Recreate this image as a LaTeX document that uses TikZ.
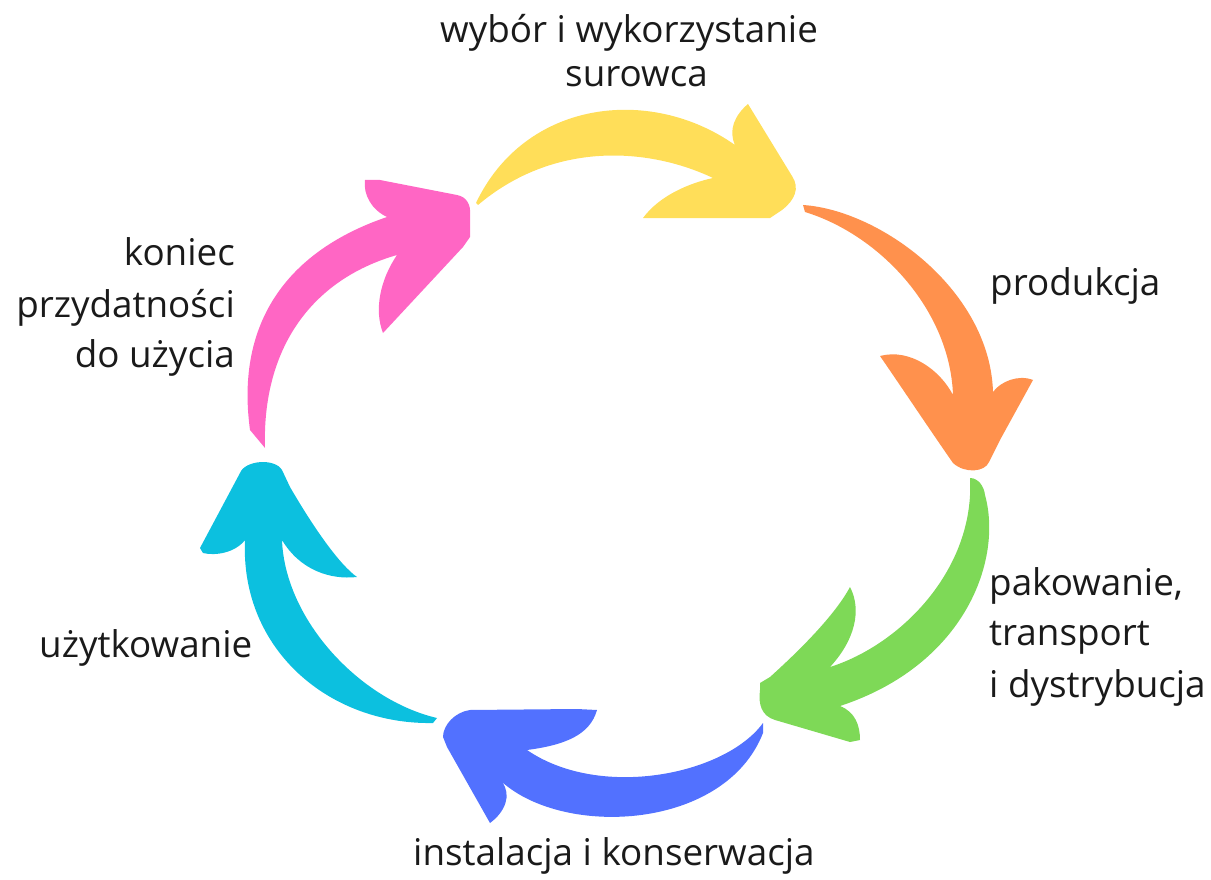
\documentclass[tikz,border=0pt]{standalone}
\usepackage{fontspec}
\setmainfont{Open Sans}
\definecolor{cyellow}{HTML}{FFDE59}
\definecolor{corange}{HTML}{FF914D}
\definecolor{cgreen}{HTML}{7ED957}
\definecolor{cblue}{HTML}{5271FF}
\definecolor{cteal}{HTML}{0CC0DF}
\definecolor{cpink}{HTML}{FF66C4}
\definecolor{ctext}{HTML}{1A1A1A}
\begin{document}
\begin{tikzpicture}[x=1pt,y=-1pt,
  lbl/.style={inner sep=0pt, font=\fontsize{36.8}{44}\selectfont, text=ctext}]
\useasboundingbox (0,0) rectangle (1211,880);

% yellow arrow
\fill[cyellow] (476,203) .. controls (525,100) and (650,85) .. (735,145)
  .. controls (728,130) and (735,115) .. (748,104)
  -- (792,176) .. controls (800,188) and (795,200) .. (782,210)
  -- (770,218) -- (643,218)
  .. controls (660,195) and (690,183) .. (713,178)
  .. controls (650,148) and (555,140) .. (478,205)
  -- cycle;

% orange arrow
\fill[corange] (803,205) .. controls (880,210) and (990,290) .. (993,392)
  .. controls (1000,382) and (1018,374) .. (1033,380)
  -- (1000,440) -- (989,462) .. controls (985,472) and (965,474) .. (953,463)
  .. controls (930,430) and (900,385) .. (880,356)
  .. controls (910,348) and (940,370) .. (953,395)
  .. controls (950,310) and (880,235) .. (805,212)
  -- cycle;

% green arrow
\fill[cgreen] (970,478) .. controls (978,478) and (984,486) .. (985,495)
  .. controls (1003,560) and (965,665) .. (840,706)
  .. controls (855,712) and (860,725) .. (860,740)
  -- (850,742) -- (775,720) .. controls (762,716) and (758,705) .. (760,690)
  -- (760,683) -- (770,677)
  .. controls (800,650) and (835,615) .. (850,587)
  .. controls (862,610) and (855,640) .. (830,667)
  .. controls (900,645) and (975,570) .. (970,478)
  -- cycle;

% blue arrow
\fill[cblue] (763,723) .. controls (725,775) and (600,800) .. (527,750)
  .. controls (565,745) and (590,735) .. (597,710)
  -- (577,709) -- (470,710) .. controls (455,712) and (443,725) .. (443,737)
  -- (447,747) -- (490,823)
  .. controls (505,812) and (512,795) .. (502,782)
  .. controls (565,838) and (725,830) .. (763,733)
  -- cycle;

% teal arrow
\fill[cteal] (240,473) .. controls (245,460) and (275,458) .. (282,470)
  -- (290,487) .. controls (315,530) and (340,565) .. (357,577)
  .. controls (330,580) and (300,570) .. (282,540)
  .. controls (285,620) and (360,700) .. (437,718)
  -- (433,723)
  .. controls (330,725) and (240,650) .. (245,540)
  .. controls (235,553) and (215,556) .. (203,553)
  -- (200,548) -- cycle;

% pink arrow
\fill[cpink] (265,448) -- (250,430) .. controls (235,320) and (290,250) .. (387,217)
  .. controls (372,210) and (363,195) .. (365,180)
  -- (380,180) -- (457,195) .. controls (467,197) and (471,205) .. (470,215)
  -- (470,237) -- (463,247) -- (383,333)
  .. controls (374,310) and (380,280) .. (397,255)
  .. controls (310,280) and (262,350) .. (265,448)
  -- cycle;

% labels
\node[lbl, anchor=base west] (t1a) at (440,43) {wybór i wykorzystanie};
\node[lbl, anchor=base west] (t1b) at (565,87) {surowca};
\node[lbl, anchor=base west] (t2) at (990,295) {produkcja};
\node[lbl, anchor=base west] (t3a) at (989,595) {pakowanie,};
\node[lbl, anchor=base west] (t3b) at (989,645) {transport};
\node[lbl, anchor=base west] (t3c) at (989,697) {i dystrybucja};
\node[lbl, anchor=base west] (t4) at (413,865) {instalacja i konserwacja};
\node[lbl, anchor=base west] (t5) at (39,657) {użytkowanie};
\node[lbl, anchor=base east] (t6a) at (235,265) {koniec};
\node[lbl, anchor=base east] (t6b) at (235,317) {przydatności};
\node[lbl, anchor=base east] (t6c) at (235,367) {do użycia};
\end{tikzpicture}
\end{document}
